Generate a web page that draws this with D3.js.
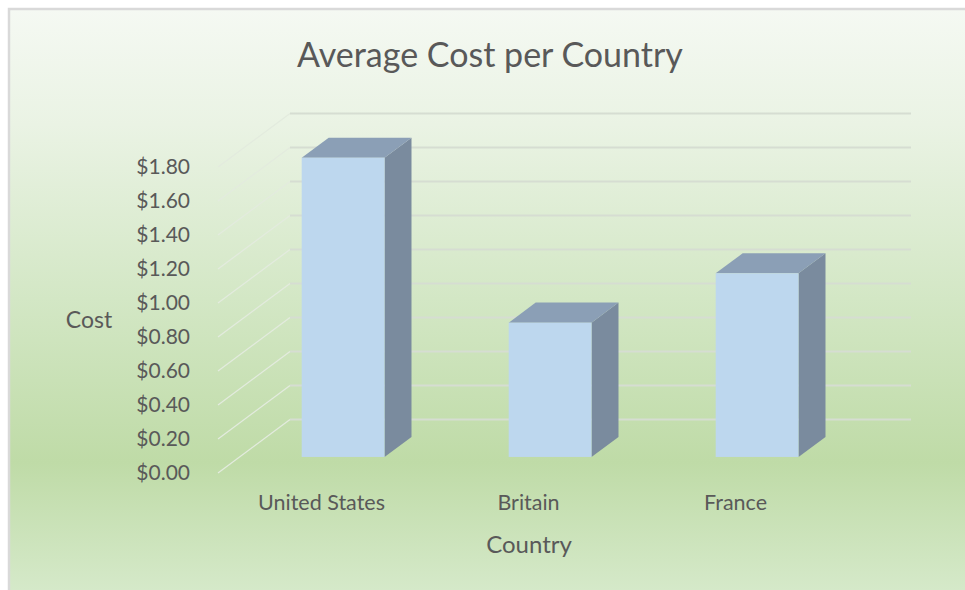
<!DOCTYPE html>
<html>
<head>
<meta charset="utf-8">
<script src="https://cdn.jsdelivr.net/npm/d3@7/dist/d3.min.js"></script>
<style>
  html, body { margin: 0; padding: 0; background: #ffffff; overflow: hidden; }
  svg { display: block; }
  text { font-family: Lato, "Open Sans", sans-serif; fill: #595959; }
</style>
</head>
<body>
<script>
// ---- data ----
const categories = ["United States", "Britain", "France"];
const costs = [1.76, 0.79, 1.08];
const tickValues = [0, 0.2, 0.4, 0.6, 0.8, 1.0, 1.2, 1.4, 1.6, 1.8];
const titleText = "Average Cost per Country";
const xTitle = "Country";
const yTitle = "Cost";

const W = 965, H = 590;
const svg = d3.select("body").append("svg").attr("width", W).attr("height", H);

// background gradient
const defs = svg.append("defs");
const grad = defs.append("linearGradient").attr("id", "bg").attr("x1", 0).attr("y1", 0).attr("x2", 0).attr("y2", 1);
[[0, "#f5f9f3"], [0.2, "#eaf3e4"], [0.5, "#d3e7c5"], [0.78, "#bfdba7"], [1, "#d5e9c9"]]
  .forEach(([o, c]) => grad.append("stop").attr("offset", o).attr("stop-color", c));

svg.append("rect").attr("x", 8).attr("y", 8).attr("width", W - 8).attr("height", H - 8)
  .attr("fill", "url(#bg)");
svg.append("path").attr("d", `M9,${H} L9,9 L${W},9`).attr("fill", "none")
  .attr("stroke", "#d9d9d9").attr("stroke-width", 2.5);

// 3D geometry
const depth = { dx: 72, dy: -53.5 };
const barFront = 0.3, barBack = 0.675;

const x = d3.scaleBand().domain(categories).range([218, 839]).paddingInner(0.6).paddingOuter(0.3);
const y = d3.scaleLinear().domain([0, 1.8]).range([473, 167]);

// gridlines
const grid = svg.append("g");
grid.selectAll("line.side").data(tickValues).join("line")
  .attr("x1", 218).attr("y1", d => y(d))
  .attr("x2", 218 + depth.dx).attr("y2", d => y(d) + depth.dy)
  .attr("stroke", "#e3ebde").attr("stroke-width", 1.3);
grid.selectAll("line.back").data(tickValues).join("line")
  .attr("x1", 218 + depth.dx).attr("y1", d => y(d) + depth.dy)
  .attr("x2", 839 + depth.dx).attr("y2", d => y(d) + depth.dy)
  .attr("stroke", "#d6ddd2").attr("stroke-width", 1.8);

// bars
const bars = svg.append("g").selectAll("g").data(categories.map((c, i) => ({ c, v: costs[i] }))).join("g");
const fx = barFront * depth.dx, fy = barFront * depth.dy;
const bx = barBack * depth.dx, by = barBack * depth.dy;
bars.append("path") // side
  .attr("d", d => {
    const xr = x(d.c) + x.bandwidth();
    return `M${xr + fx},${y(d.v) + fy} L${xr + bx},${y(d.v) + by} L${xr + bx},${y(0) + by} L${xr + fx},${y(0) + fy} Z`;
  }).attr("fill", "#7a8b9e");
bars.append("path") // top
  .attr("d", d => {
    const xl = x(d.c), xr = x(d.c) + x.bandwidth(), yt = y(d.v);
    return `M${xl + fx},${yt + fy} L${xl + bx},${yt + by} L${xr + bx},${yt + by} L${xr + fx},${yt + fy} Z`;
  }).attr("fill", "#8b9fb6");
bars.append("rect") // front
  .attr("x", d => x(d.c) + fx).attr("y", d => y(d.v) + fy)
  .attr("width", x.bandwidth()).attr("height", d => y(0) - y(d.v))
  .attr("fill", "#bdd7ee");

// tick labels
svg.append("g").selectAll("text").data(tickValues).join("text")
  .attr("x", 190).attr("y", d => y(d)).attr("dy", "0.35em")
  .attr("text-anchor", "end").style("font-size", "21px")
  .text(d => d3.format("$.2f")(d));

// category labels
svg.append("g").selectAll("text").data(categories).join("text")
  .attr("x", d => x(d) + x.bandwidth() / 2).attr("y", 510)
  .attr("text-anchor", "middle").style("font-size", "21.5px")
  .text(d => d);

svg.append("text").attr("x", 529).attr("y", 553).attr("text-anchor", "middle")
  .style("font-size", "24px").text(xTitle);
svg.append("text").attr("x", 89).attr("y", 328).attr("text-anchor", "middle")
  .style("font-size", "23px").text(yTitle);
svg.append("text").attr("x", 490).attr("y", 67).attr("text-anchor", "middle")
  .style("font-size", "34px").text(titleText);
</script>
</body>
</html>
